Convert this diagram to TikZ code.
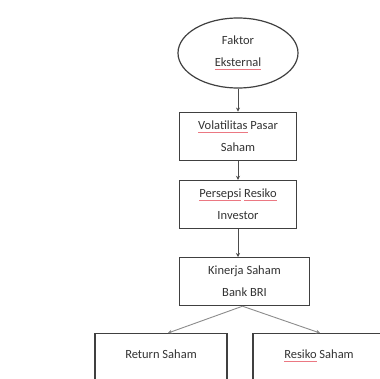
\documentclass[tikz,border=0pt]{standalone}
\usepackage{fontspec}
\setmainfont{Carlito}
\usepackage{tikz}
\usetikzlibrary{arrows.meta,calc,positioning,shapes.geometric}
\tikzset{
	kotak/.style={draw=black!75,line width=1.2pt,minimum width=117pt,minimum height=48pt,
		align=center,inner sep=0pt,text=black!80},
	elips/.style={draw=black!75,line width=1.2pt,ellipse,minimum width=120pt,minimum height=70pt,
		align=center,inner sep=0pt,text=black!80},
	panah/.style={draw=black!70,line width=0.8pt,-{Stealth[length=4pt,width=4pt]}},
	garis/.style={draw=black!45,line width=0.9pt,-{Stealth[length=4pt,width=4pt,fill=black!80]}}
}
\definecolor{merahmuda}{RGB}{235,120,130}
\newcommand{\salah}[1]{\setbox0\hbox{#1}\rlap{\color{merahmuda}\vrule depth 3.2pt height -2.2pt width \wd0}\box0\relax}

\begin{document}
\begin{tikzpicture}[x=1pt,y=1pt,node distance=19pt,font=\fontsize{12.5}{22}\selectfont]
	\useasboundingbox[fill=white] (0,0) rectangle (380,-378);
	\clip (0,0) rectangle (380,-378);
	\node [elips] (faktor) at (238,-53) {Faktor\\\salah{Eksternal}};
	\node [kotak, below=23pt of faktor] (volat) {\salah{Volatilitas} Pasar\\Saham};
	\node [kotak, below=of volat] (persepsi) {\salah{Persepsi} \salah{Resiko}\\Investor};
	\node [kotak, minimum width=130pt, below=28pt of persepsi, xshift=6.5pt] (kinerja) {Kinerja Saham\\Bank BRI};
	\node [kotak, minimum width=132pt, minimum height=70pt, anchor=north] (return) at (161,-333) {Return Saham\\[6pt]\mbox{}};
	\node [kotak, minimum width=132pt, minimum height=70pt, anchor=north] (resiko) at (319,-333) {\salah{Resiko} Saham\\[6pt]\mbox{}};
	% panah
	\draw [panah] (faktor.south) -- (volat.north);
	\draw [panah] (volat.south) -- (persepsi.north);
	\draw [panah] (persepsi.south) -- (persepsi.south |- kinerja.north);
	\draw [garis] ([xshift=-2pt]kinerja.south) -- ([xshift=7pt]return.north);
	\draw [garis] ([xshift=-2pt]kinerja.south) -- ([xshift=1pt]resiko.north);
\end{tikzpicture}
\end{document}
